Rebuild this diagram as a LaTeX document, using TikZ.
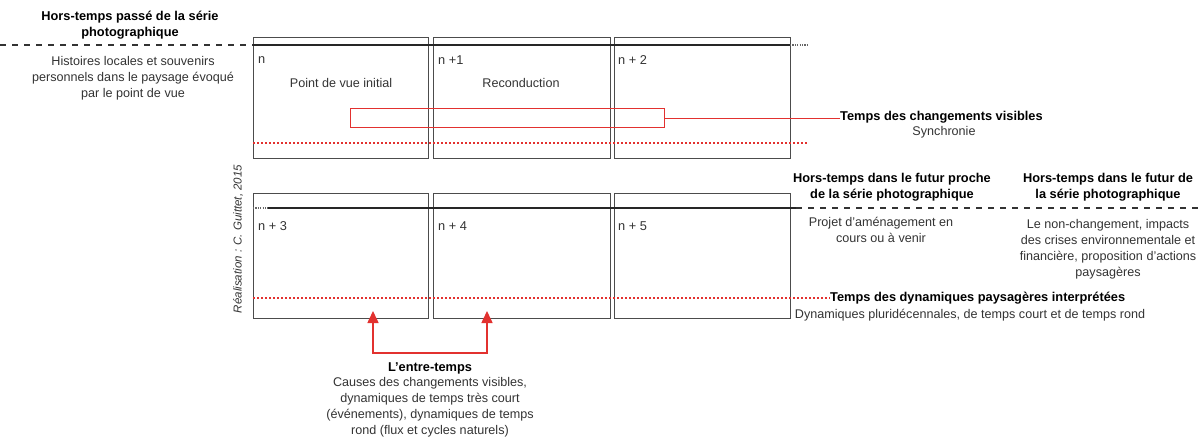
\documentclass[tikz,border=0pt]{standalone}
\usepackage{fontspec}
\setmainfont{Liberation Sans}
\usetikzlibrary{arrows.meta}
\definecolor{redl}{HTML}{E2312F}
\definecolor{txt}{HTML}{333333}
\tikzset{
  box/.style={draw=black!70, line width=0.9pt, minimum width=175pt, minimum height=121pt, anchor=north west, inner sep=0pt},
  lbl/.style={anchor=west, font=\fontsize{12.8}{14}\selectfont, text=txt, inner sep=0pt},
  ttl/.style={align=center, font=\fontsize{12.8}{16.5}\selectfont\bfseries, text=black, inner sep=0pt},
  desc/.style={align=center, font=\fontsize{12.6}{16}\selectfont, text=txt, inner sep=0pt},
  solidline/.style={draw=black!85, line width=1.8pt},
  dashline/.style={draw=black!80, line width=1.4pt, dash pattern=on 6pt off 6pt},
  dotline/.style={draw=black!60, line width=1.2pt, dash pattern=on 1.2pt off 1.2pt},
  reddot/.style={draw=redl, line width=2pt, dash pattern=on 2pt off 2pt},
  redline/.style={draw=redl, line width=1.2pt},
  redarrow/.style={draw=redl, line width=1.6pt, -{Triangle[length=12pt,width=11pt,fill=redl]}},
}
\begin{document}
\begin{tikzpicture}[x=1pt,y=-1pt]
\useasboundingbox (0,0) rectangle (1204,439);
% top row boxes
\node[box] (b1) at (253,37) {};
\node[box, minimum width=177pt] (b2) at (433,37) {};
\node[box, minimum width=176pt] (b3) at (614,37) {};
% bottom row boxes
\node[box, minimum height=125pt] (b4) at (253,193) {};
\node[box, minimum width=177pt, minimum height=125pt] (b5) at (433,193) {};
\node[box, minimum width=176pt, minimum height=125pt] (b6) at (614,193) {};
% top time line
\coordinate (tl0) at (0,45);
\coordinate (tl1) at (253,45);
\coordinate (tl2) at (790,45);
\coordinate (tl3) at (808,45);
\draw[dashline] (tl0) -- (tl1);
\draw[solidline] (tl1) -- (tl2);
\draw[dotline] (tl2) -- (tl3);
% bottom time line
\coordinate (bl0) at (253,208);
\coordinate (bl1) at (268,208);
\coordinate (bl2) at (796,208);
\coordinate (bl3) at (1204,208);
\draw[dotline] (bl0) -- (bl1);
\draw[solidline] (bl1) -- (bl2);
\draw[dashline] (bl2) -- (bl3);
% labels in boxes
\node[lbl] (n0) at (258,60) {n};
\node[lbl] (n1) at (438,60) {n +1};
\node[lbl] (n2) at (618,60) {n + 2};
\node[lbl] (n3) at (258,226) {n + 3};
\node[lbl] (n4) at (438,226) {n + 4};
\node[lbl] (n5) at (618,226) {n + 5};
\node[desc] (pvi) at (341,83) {Point de vue initial};
\node[desc] (rec) at (521,83) {Reconduction};
% red rectangle and link
\node[draw=redl, line width=1.2pt, minimum width=314pt, minimum height=19pt, anchor=north west, inner sep=0pt] (rr) at (350,108) {};
\node[ttl, anchor=west] (tcv) at (840,117) {Temps des changements visibles};
\node[desc] (syn) at (944,132) {Synchronie};
\draw[redline] (rr.east) -- (rr.east -| tcv.west);
% red dotted lines
\coordinate (rd0) at (253,143);
\coordinate (rd1) at (808,143);
\draw[reddot] (rd0) -- (rd1);
\coordinate (rd2) at (253,298);
\node[ttl, anchor=west] (tdp) at (830,298) {Temps des dynamiques paysagères interprétées};
\draw[reddot] (rd2) -- (tdp.west);
\node[desc] (dpl) at (970,315) {Dynamiques pluridécennales, de temps court et de temps rond};
% left titles
\node[ttl] (htp) at (130,25) {Hors-temps passé de la série\\photographique};
\node[desc] (hist) at (133,78) {Histoires locales et souvenirs\\personnels dans le paysage évoqué\\par le point de vue};
% right titles
\node[ttl] (htfp) at (892,187) {Hors-temps dans le futur proche\\de la série photographique};
\node[desc] (proj) at (881,230) {Projet d'aménagement en\\cours ou à venir};
\node[ttl] (htf) at (1108,187) {Hors-temps dans le futur de\\la série photographique};
\node[desc] (nonch) at (1108,249) {Le non-changement, impacts\\des crises environnementale et\\financière, proposition d'actions\\paysagères};
% credit
\node[rotate=90, font=\fontsize{11.5}{12}\selectfont\itshape, text=txt, inner sep=0pt] (cred) at (238,239) {Réalisation : C. Guittet, 2015};
% entre-temps
\coordinate (m) at (430,353);
\coordinate (t1) at (373,311);
\coordinate (t2) at (487,311);
\draw[redarrow] (m) -| (t1);
\draw[redarrow] (m) -| (t2);
\node[ttl] (et) at (430,368) {L'entre-temps};
\node[desc] (cause) at (430,407) {Causes des changements visibles,\\dynamiques de temps très court\\(événements), dynamiques de temps\\rond (flux et cycles naturels)};
\end{tikzpicture}
\end{document}
